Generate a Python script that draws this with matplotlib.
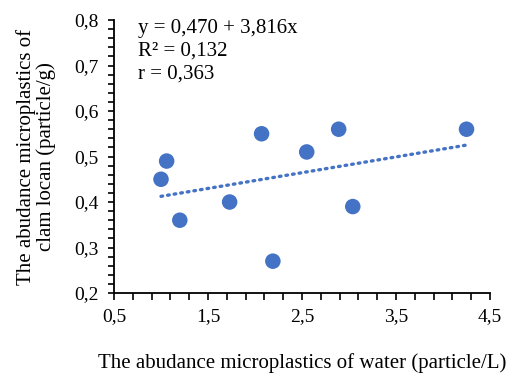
import matplotlib
matplotlib.use("Agg")
import matplotlib.pyplot as plt
from matplotlib.ticker import MultipleLocator, FuncFormatter
import numpy as np

# Data
water = [1.00, 1.06, 1.20, 1.73, 2.07, 2.19, 2.55, 2.89, 3.04, 4.25]
clam = [0.45, 0.49, 0.36, 0.40, 0.55, 0.27, 0.51, 0.56, 0.39, 0.56]
eq_lines = ["y = 0,470 + 3,816x", "R² = 0,132", "r = 0,363"]

plt.rcParams['font.family'] = ['Liberation Serif', 'DejaVu Serif']
blue = "#4472C4"

fig = plt.figure(figsize=(5.08, 3.76), dpi=100)
ax = fig.add_axes([0.2244, 0.2207, 0.7402, 0.7261])

ax.scatter(water, clam, s=125, color=blue, edgecolors="none", zorder=3)

# linear trendline
k, b = np.polyfit(water, clam, 1)
xt = np.array([min(water), max(water)])
ax.plot(xt, k * xt + b, color=blue, lw=2.4, ls=(0, (0.5, 1.5)),
        dash_capstyle="round", zorder=2)

ax.set_xlim(0.5, 4.5)
ax.set_ylim(0.2, 0.8)
ax.xaxis.set_major_locator(MultipleLocator(1.0, offset=0.5))
ax.xaxis.set_minor_locator(MultipleLocator(0.2, offset=0.1))
ax.yaxis.set_major_locator(MultipleLocator(0.1))
ax.yaxis.set_minor_locator(MultipleLocator(0.02))
comma = FuncFormatter(lambda v, p: f"{v:.1f}".replace(".", ","))
ax.xaxis.set_major_formatter(comma)
ax.yaxis.set_major_formatter(comma)

for s in ["top", "right"]:
    ax.spines[s].set_visible(False)
for s in ["left", "bottom"]:
    ax.spines[s].set_linewidth(1.3)

ax.tick_params(which="both", direction="out", width=1.2, labelsize=14, colors="black")
ax.tick_params(axis="x", which="both", length=5, pad=6)
ax.tick_params(axis="y", which="both", length=4, pad=7)

ax.set_xlabel("The abudance microplastics of water (particle/L)", fontsize=15, labelpad=20)
ax.set_ylabel("The abudance microplastics of\nclam locan (particle/g)", fontsize=15,
              labelpad=13, linespacing=1.05)

ax.text(0.065, 1.005, "\n".join(eq_lines), transform=ax.transAxes, fontsize=15,
        va="top", ha="left", linespacing=1.3)

fig.savefig("out.png", dpi=100)
